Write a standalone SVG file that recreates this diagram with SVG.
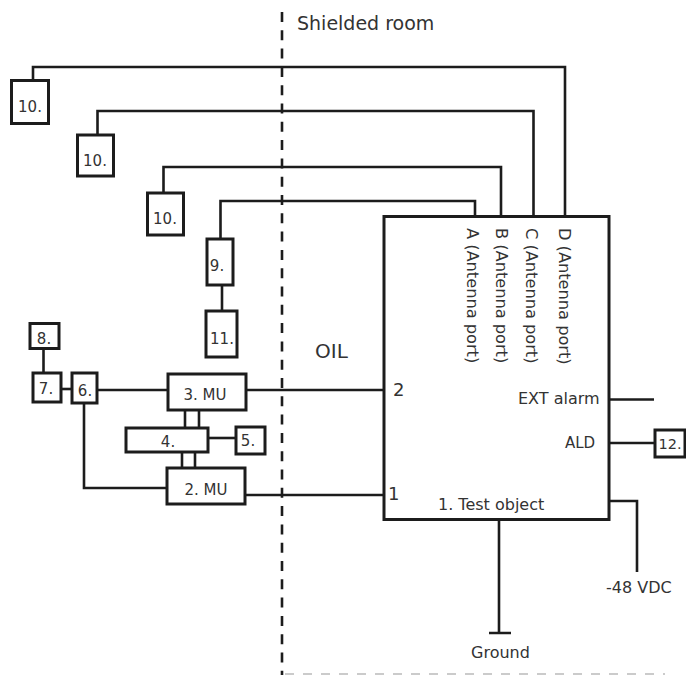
<svg xmlns="http://www.w3.org/2000/svg" width="686" height="675" viewBox="0 0 686 675">
<style>
text{font-family:"DejaVu Sans",Verdana,sans-serif;fill:#333;font-size:15px}
.b{fill:#fff;stroke:#1c1c1c;stroke-width:3}
.l{fill:none;stroke:#1c1c1c;stroke-width:2.600}
.m{text-anchor:middle}
.t{font-size:16px}
.r{font-size:16.200px}
</style>
<rect width="686" height="675" fill="#fff"/>
<g id="connectors">
<line x1="282" y1="12" x2="282" y2="675" stroke="#1c1c1c" stroke-width="2.600" stroke-dasharray="10 8.300"/>
<line x1="285" y1="674" x2="665" y2="674" stroke="#bbb" stroke-width="1.500" stroke-dasharray="9 9"/>
<path class="l" d="M33 80V67H565V216"/>
<path class="l" d="M97.500 135V111H533.500V216"/>
<path class="l" d="M163.500 193V167H501V216"/>
<path class="l" d="M220.500 239V201H475V216"/>
<path class="l" d="M222 285V311"/>
<path class="l" d="M43.500 349V373"/>
<path class="l" d="M61 389H72"/>
<path class="l" d="M97 390H168"/>
<path class="l" d="M246 390H384"/>
<path class="l" d="M185 410V428M199 410V428"/>
<path class="l" d="M208 438H236"/>
<path class="l" d="M182 452V468M195 452V468"/>
<path class="l" d="M84 403V488H167"/>
<path class="l" d="M245 495H384"/>
<path class="l" d="M609 399.500H654"/>
<path class="l" d="M609 443H655"/>
<path class="l" d="M609 501H637V572"/>
<path class="l" d="M499 520V633M489 633H511"/>
</g>
<g id="n10a"><rect class="b" x="11.500" y="80.500" width="37" height="43"/><text class="m" x="30" y="112">10.</text></g>
<g id="n10b"><rect class="b" x="77.500" y="135" width="36" height="41"/><text class="m" x="95" y="166">10.</text></g>
<g id="n10c"><rect class="b" x="147.500" y="193" width="36" height="42"/><text class="m" x="165" y="224">10.</text></g>
<g id="n9"><rect class="b" x="207" y="239" width="26" height="46"/><text class="m" x="217" y="271">9.</text></g>
<g id="n11"><rect class="b" x="206" y="311" width="31" height="46"/><text class="m" x="222" y="344">11.</text></g>
<g id="n8"><rect class="b" x="30" y="323.500" width="29" height="25"/><text class="m" x="44" y="344">8.</text></g>
<g id="n7"><rect class="b" x="33" y="373" width="28" height="29"/><text class="m" x="46" y="394">7.</text></g>
<g id="n6"><rect class="b" x="72" y="373" width="25" height="30"/><text class="m" x="85" y="396">6.</text></g>
<g id="n3"><rect class="b" x="168" y="374" width="78" height="36"/><text class="m" x="205" y="400">3. MU</text></g>
<g id="n4"><rect class="b" x="126" y="428" width="82" height="24"/><text class="m" x="168" y="447">4.</text></g>
<g id="n5"><rect class="b" x="236" y="427" width="29" height="27"/><text class="m" x="248" y="446">5.</text></g>
<g id="n2"><rect class="b" x="167" y="468" width="78" height="36"/><text class="m" x="206" y="495">2. MU</text></g>
<g id="n12"><rect class="b" x="655" y="430" width="30" height="27"/><text class="m" x="670" y="449" style="font-size:14.500px">12.</text></g>
<g id="n1">
<rect class="b" x="384" y="216.500" width="225" height="303"/>
<text class="t" x="438" y="510">1. Test object</text>
<text x="393" y="396" style="font-size:18px">2</text>
<text x="388" y="500" style="font-size:18px">1</text>
<text class="t" x="518" y="404">EXT alarm</text>
<text x="565" y="448">ALD</text>
<text class="r" transform="translate(467,228) rotate(90)">A (Antenna port)</text>
<text class="r" transform="translate(496,228) rotate(90)">B (Antenna port)</text>
<text class="r" transform="translate(526,228) rotate(90)">C (Antenna port)</text>
<text class="r" transform="translate(559,228) rotate(90)">D (Antenna port)</text>
</g>
<text x="297" y="30" style="font-size:19px">Shielded room</text>
<text x="315" y="358" style="font-size:20px">OIL</text>
<text class="t" x="606" y="593">-48 VDC</text>
<text class="t" x="471" y="658">Ground</text>
</svg>
